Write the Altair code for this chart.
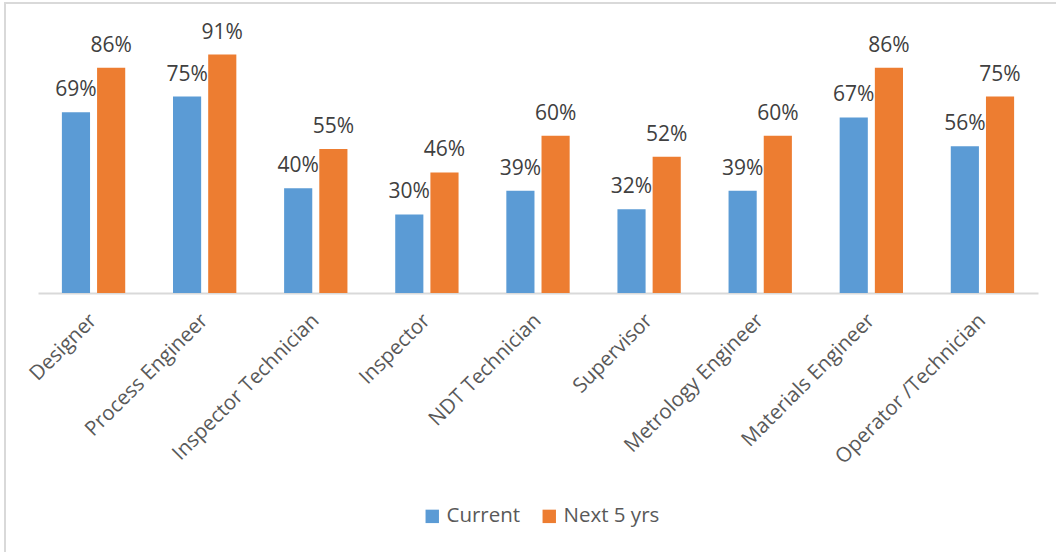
import altair as alt
import pandas as pd

categories = ["Designer", "Process Engineer", "Inspector Technician", "Inspector",
              "NDT Technician", "Supervisor", "Metrology Engineer",
              "Materials Engineer", "Operator /Technician"]
current = [0.69, 0.75, 0.40, 0.30, 0.39, 0.32, 0.39, 0.67, 0.56]
next5 = [0.86, 0.91, 0.55, 0.46, 0.60, 0.52, 0.60, 0.86, 0.75]
series = ["Current", "Next 5 yrs"]
colors = ["#5B9BD5", "#ED7D31"]

rows = []
for c, a, b in zip(categories, current, next5):
    rows.append({"role": c, "series": series[0], "value": a})
    rows.append({"role": c, "series": series[1], "value": b})
df = pd.DataFrame(rows)

FONT = "Open Sans"

x = alt.X("role:N", sort=categories, title=None,
          scale=alt.Scale(paddingInner=0.43, paddingOuter=0.215),
          axis=alt.Axis(labelAngle=-45, labelAlign="right", labelBaseline="middle",
                        labelPadding=24, labelFontSize=20.5, labelColor="#595959",
                        labelFont=FONT, ticks=False, domainColor="#D9D9D9",
                        domainWidth=2, labelOverlap=False, labelLimit=400))
xo = alt.XOffset("series:N", sort=series,
                 scale=alt.Scale(paddingInner=0.2, paddingOuter=0))
y = alt.Y("value:Q", scale=alt.Scale(domain=[0, 1]), axis=None)
color = alt.Color("series:N", sort=series,
                  scale=alt.Scale(domain=series, range=colors),
                  legend=alt.Legend(title=None, orient="none", legendX=384, legendY=475,
                                    direction="horizontal", symbolType="square",
                                    symbolSize=180, symbolStrokeWidth=0,
                                    labelFontSize=20.5, labelFont=FONT,
                                    labelColor="#595959", columnPadding=18,
                                    labelOffset=4))

bars = alt.Chart(df).mark_bar().encode(x=x, xOffset=xo, y=y, color=color)

labels = alt.Chart(df).mark_text(baseline="bottom", dy=-12, fontSize=21,
                                 font=FONT, color="#404040").encode(
    x=x, xOffset=xo, y=y, text=alt.Text("value:Q", format=".0%"))

border = alt.Chart(pd.DataFrame({"a": [0]})).mark_rect(
    fill=None, stroke="#D9D9D9", strokeWidth=2).encode(
    x=alt.value(-33), x2=alt.value(1040), y=alt.value(-28), y2=alt.value(540))

chart = alt.layer(border, bars, labels).properties(
    width=1000, height=262,
    background="white",
    autosize=alt.AutoSizeParams(type="none"),
    padding={"left": 38, "top": 31, "right": 18, "bottom": 259},
).configure_view(strokeWidth=0, stroke="transparent")

chart.save("out.html", embed_options={"renderer": "svg", "actions": False})
